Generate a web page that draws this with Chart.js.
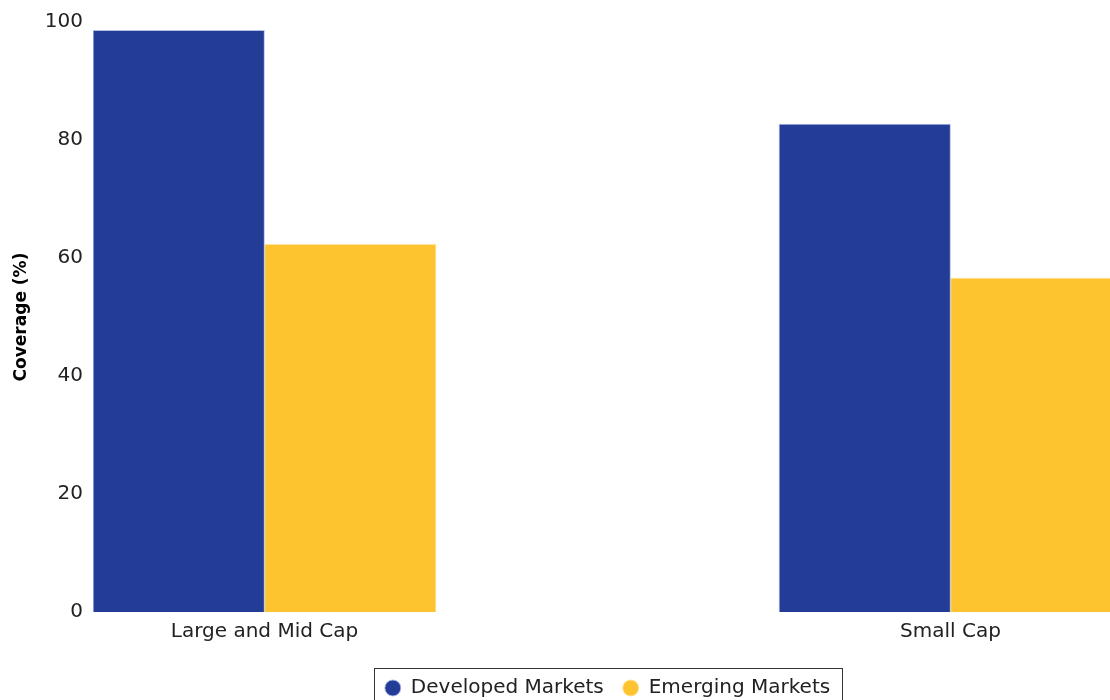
<!DOCTYPE html>
<html>
<head>
<meta charset="utf-8">
<script src="https://cdn.jsdelivr.net/npm/chart.js@4/dist/chart.umd.min.js"></script>
<style>
  html, body { margin: 0; padding: 0; background: #fff; overflow: hidden; }
  #wrap { width: 1122px; height: 708px; }
</style>
</head>
<body>
<div id="wrap"><canvas id="myChart" width="1122" height="708"></canvas></div>
<script>
// Data
const categories = ['Large and Mid Cap', '', 'Small Cap']
const developed = [98.6, null, 82.7]
const emerging = [62.3, null, 56.6]
const yTicks = [0, 20, 40, 60, 80, 100]

const fontFamily = '"DejaVu Sans", sans-serif'
const textColor = '#222'

// draw a thin frame round the legend items
const legendFrame = {
    id: 'legendFrame',
    afterDraw(chart) {
        const boxes = chart.legend.legendHitBoxes
        if (!boxes || !boxes.length) return
        const left = Math.min(...boxes.map(b => b.left)) - 11
        const right = Math.max(...boxes.map(b => b.left + b.width)) + 12
        const top = Math.min(...boxes.map(b => b.top)) - 10
        const bottom = Math.max(...boxes.map(b => b.top + b.height)) + 10
        const ctx = chart.ctx
        ctx.save()
        ctx.strokeStyle = '#333'
        ctx.lineWidth = 1
        ctx.strokeRect(Math.round(left) + 0.5, Math.round(top) + 0.5, Math.round(right - left), Math.round(bottom - top))
        ctx.restore()
    }
}

const myChart = document.getElementById('myChart').getContext('2d')

const chart = new Chart(myChart, {
    type: 'bar',
    data: {
        labels: categories,
        datasets: [
            {
                label: 'Developed Markets',
                data: developed,
                backgroundColor: '#233c96',
                borderColor: 'rgba(170,185,230,0.9)',
                borderWidth: 1
            },
            {
                label: 'Emerging Markets',
                data: emerging,
                backgroundColor: '#fec42f',
                borderColor: 'rgba(255,225,150,0.9)',
                borderWidth: 1
            }
        ]
    },
    options: {
        responsive: false,
        animation: false,
        layout: { padding: { top: 22, left: 0, right: 0, bottom: 0 } },
        datasets: {
            bar: { categoryPercentage: 1, barPercentage: 1 }
        },
        scales: {
            x: {
                grid: { display: false, drawTicks: false },
                border: { display: false },
                ticks: {
                    padding: 8,
                    color: textColor,
                    font: { family: fontFamily, size: 20 }
                },
                afterFit(scale) { scale.height = 47 }
            },
            y: {
                min: 0,
                max: 100,
                afterBuildTicks(scale) { scale.ticks = yTicks.map(v => ({ value: v })) },
                grid: { display: false, drawTicks: false },
                border: { display: false },
                ticks: {
                    padding: 10,
                    color: textColor,
                    font: { family: fontFamily, size: 20 }
                },
                title: {
                    display: true,
                    text: 'Coverage (%)',
                    color: '#000',
                    padding: { top: 11, bottom: 0 },
                    font: { family: fontFamily, size: 17, weight: 'bold' }
                },
                afterFit(scale) { scale.width = 93 }
            }
        },
        plugins: {
            legend: {
                position: 'bottom',
                fullSize: false,
                labels: {
                    usePointStyle: true,
                    pointStyle: 'circle',
                    boxWidth: 16,
                    boxHeight: 11.3,
                    padding: 19,
                    color: textColor,
                    font: { family: fontFamily, size: 20 }
                }
            },
            tooltip: { enabled: false }
        }
    },
    plugins: [legendFrame]
})
</script>
</body>
</html>
